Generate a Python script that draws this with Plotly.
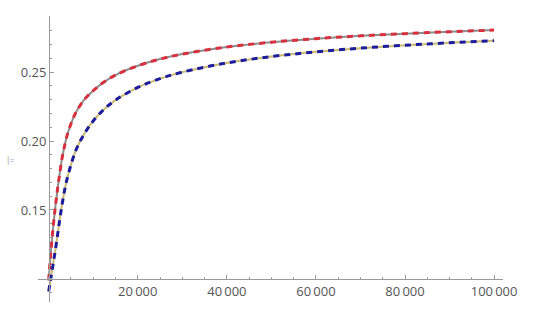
import plotly.graph_objects as go

x_vals = [0, 250, 500, 1000, 1500, 2000, 2500, 3000, 3500, 4000, 5000, 6000, 7000, 8000, 9000,
          10000, 12000, 15000, 20000, 25000, 30000, 40000, 50000, 60000, 70000, 80000, 90000, 100000]
red_vals = [0.099, 0.110, 0.120, 0.1375, 0.1525, 0.1655, 0.177, 0.1875, 0.1955, 0.2025, 0.2125,
            0.2200, 0.2255, 0.2300, 0.2335, 0.2365, 0.2418, 0.2478, 0.2545, 0.2594, 0.2630,
            0.2681, 0.2716, 0.2742, 0.2762, 0.2778, 0.2792, 0.2804]
blue_vals = [0.091, 0.096, 0.101, 0.111, 0.121, 0.132, 0.1435, 0.154, 0.163, 0.1708, 0.1827,
             0.1925, 0.1995, 0.2052, 0.2102, 0.2145, 0.2217, 0.2296, 0.2388, 0.2452, 0.2499,
             0.2566, 0.2612, 0.2646, 0.2673, 0.2694, 0.2712, 0.2727]

x_ticks = [20000, 40000, 60000, 80000, 100000]
x_tick_text = ["20\u2009000", "40\u2009000", "60\u2009000", "80\u2009000", "100\u2009000"]
y_ticks = [0.15, 0.20, 0.25]
y_tick_text = ["0.15", "0.20", "0.25"]

fig = go.Figure()
fig.add_trace(go.Scatter(x=x_vals, y=red_vals, mode="lines",
                         line=dict(color="#8c8c8c", width=2, shape="spline")))
fig.add_trace(go.Scatter(x=x_vals, y=red_vals, mode="lines",
                         line=dict(color="#d9303e", width=3, dash="6px,5px", shape="spline")))
fig.add_trace(go.Scatter(x=x_vals, y=blue_vals, mode="lines",
                         line=dict(color="#cdb870", width=2, shape="spline")))
fig.add_trace(go.Scatter(x=x_vals, y=blue_vals, mode="lines",
                         line=dict(color="#1c1c9e", width=3, dash="6px,5px", shape="spline")))

axis_color = "#9a9a9a"
font_color = "#555555"

fig.update_layout(
    width=540, height=327,
    margin=dict(l=38, r=37, t=16, b=25),
    paper_bgcolor="white", plot_bgcolor="white",
    showlegend=False,
    font=dict(family="Open Sans", size=13, color=font_color),
    xaxis=dict(
        range=[-2400, 102000], showgrid=False, zeroline=False,
        showline=True, linecolor=axis_color, linewidth=1,
        anchor="free", position=0.0804,
        tickvals=x_ticks, ticktext=x_tick_text,
        ticks="inside", ticklen=4, tickcolor=axis_color,
        minor=dict(dtick=5000, tick0=0, ticks="inside", ticklen=2, tickcolor=axis_color),
        tickfont=dict(size=13, color=font_color),
    ),
    yaxis=dict(
        range=[0.0833, 0.2906], showgrid=False, zeroline=False,
        showline=True, linecolor=axis_color, linewidth=1,
        anchor="free", position=0.0237,
        tickvals=y_ticks, ticktext=y_tick_text,
        ticks="inside", ticklen=4, tickcolor=axis_color,
        minor=dict(dtick=0.01, tick0=0.1, ticks="inside", ticklen=2, tickcolor=axis_color),
        tickfont=dict(size=13, color=font_color),
    ),
    annotations=[dict(text="|=", xref="paper", yref="paper", x=-0.072, y=0.4965,
                      showarrow=False,
                      font=dict(family="Liberation Sans", size=9, color="#b0b0b0"))],
)

fig.write_html("out.html")
